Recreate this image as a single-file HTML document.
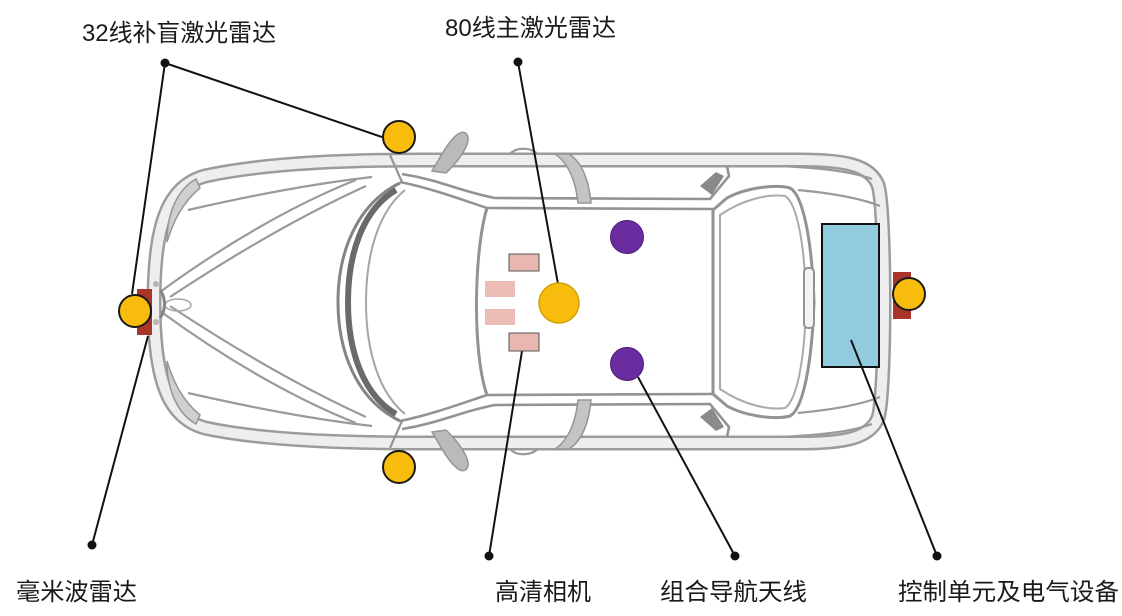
<!DOCTYPE html>
<html>
<head>
<meta charset="utf-8">
<style>
  html,body{margin:0;padding:0;background:#ffffff;}
  body{width:1122px;height:616px;overflow:hidden;}
  svg{display:block;}
  .t{font-family:"Liberation Sans","Noto Sans CJK SC",sans-serif;font-size:24px;fill:#1a1a1a;}
</style>
</head>
<body>
<svg width="1122" height="616" viewBox="0 0 1122 616" xmlns="http://www.w3.org/2000/svg">
  <rect x="0" y="0" width="1122" height="616" fill="#ffffff"/>

  <!-- ===== CAR BODY ===== -->
  <path d="M420 160 L800 160 C845 160 870 165 878 185 C886 210 886 394 878 418 C870 438 845 443 800 443 L420 443 C340 443 260 440 205 428 C168 418 154 380 154 302 C154 224 168 186 205 176 C260 164 340 160 420 160 Z" fill="none" stroke="#9c9c9c" stroke-width="15"/>
  <path d="M420 160 L800 160 C845 160 870 165 878 185 C886 210 886 394 878 418 C870 438 845 443 800 443 L420 443 C340 443 260 440 205 428 C168 418 154 380 154 302 C154 224 168 186 205 176 C260 164 340 160 420 160 Z" fill="none" stroke="#eeeeee" stroke-width="10"/>

  <!-- top half details -->
  <g fill="none" stroke="#9a9a9a" stroke-width="2.2">
    <path d="M160 292 C220 248 290 206 356 180"/>
    <path d="M170 297 C232 256 300 216 366 186"/>
    <path d="M188 210 C250 196 310 184 372 177"/>
    <path d="M196 179 C178 189 167 212 167 242 C173 222 182 203 200 188 Z" fill="#cfcfcf" stroke="#969696" stroke-width="1.5"/>
    <path d="M390 155 L402 182" stroke="#959595"/>
    <path d="M400 182 C430 188 460 199 487 208" stroke="#939393" stroke-width="2.6"/>
    <path d="M402 174 C440 180 462 192 495 198 L710 199 L729 176 L727 166" stroke="#939393" stroke-width="2.6"/>
    <path d="M487 208 L713 209" stroke="#939393" stroke-width="2.6"/>
    <path d="M555 154 C569 163 576 183 578 203 L591 203 C589 182 583 163 569 154 Z" fill="#c4c4c4" stroke="#959595" stroke-width="1.5"/>
    <path d="M700 186 L716 172 L724 176 L712 195 Z" fill="#8a8a8a" stroke="none"/>
    <path d="M432 171 C440 158 448 141 458 134 C466 129 471 136 466 147 C460 159 452 167 446 173 Z" fill="#bababa" stroke="#959595" stroke-width="1.5"/>
    <path d="M780 166 C820 168 850 171 872 179"/>
    <path d="M798 190 C830 193 860 198 880 206"/>
    <path d="M510 154 C516 147 530 147 538 154"/>
  </g>
  <!-- bottom half details (mirrored) -->
  <g fill="none" stroke="#9a9a9a" stroke-width="2.2" transform="matrix(1 0 0 -1 0 603)">
    <path d="M160 292 C220 248 290 206 356 180"/>
    <path d="M170 297 C232 256 300 216 366 186"/>
    <path d="M188 210 C250 196 310 184 372 177"/>
    <path d="M196 179 C178 189 167 212 167 242 C173 222 182 203 200 188 Z" fill="#cfcfcf" stroke="#969696" stroke-width="1.5"/>
    <path d="M390 155 L402 182" stroke="#959595"/>
    <path d="M400 182 C430 188 460 199 487 208" stroke="#939393" stroke-width="2.6"/>
    <path d="M402 174 C440 180 462 192 495 198 L710 199 L729 176 L727 166" stroke="#939393" stroke-width="2.6"/>
    <path d="M487 208 L713 209" stroke="#939393" stroke-width="2.6"/>
    <path d="M555 154 C569 163 576 183 578 203 L591 203 C589 182 583 163 569 154 Z" fill="#c4c4c4" stroke="#959595" stroke-width="1.5"/>
    <path d="M700 186 L716 172 L724 176 L712 195 Z" fill="#8a8a8a" stroke="none"/>
    <path d="M432 171 C440 158 448 141 458 134 C466 129 471 136 466 147 C460 159 452 167 446 173 Z" fill="#bababa" stroke="#959595" stroke-width="1.5"/>
    <path d="M780 166 C820 168 850 171 872 179"/>
    <path d="M798 190 C830 193 860 198 880 206"/>
    <path d="M510 154 C516 147 530 147 538 154"/>
  </g>

  <!-- windshield -->
  <path d="M400 183 C355 205 338 255 338 302 C338 349 355 399 400 421" fill="none" stroke="#858585" stroke-width="3"/>
  <path d="M396 190 C362 210 348 255 348 302 C348 349 362 394 396 414" fill="none" stroke="#6a6a6a" stroke-width="6"/>
  <path d="M405 190 C378 212 366 255 366 302 C366 349 378 392 405 414" fill="none" stroke="#a5a5a5" stroke-width="2"/>
  <path d="M487 208 C474 250 472 353 487 395" fill="none" stroke="#939393" stroke-width="3"/>

  <!-- roof right edge and rear window -->
  <path d="M713 209 L713 394" fill="none" stroke="#939393" stroke-width="3"/>
  <path d="M713 210 L727 198 C745 188 775 184 790 188 C803 195 812 240 814 302 C812 364 803 409 790 416 C775 420 745 416 727 406 L713 394" fill="none" stroke="#939393" stroke-width="3"/>
  <path d="M720 215 C745 198 770 194 785 196 C797 203 805 245 806 302 C805 359 797 400 785 408 C770 410 745 406 720 389 Z" fill="none" stroke="#aaaaaa" stroke-width="2"/>
  <rect x="804" y="268" width="10" height="60" rx="4" fill="#f4f4f4" stroke="#939393" stroke-width="2"/>

  <!-- front grille -->
  <ellipse cx="178" cy="305" rx="13" ry="6" fill="none" stroke="#a5a5a5" stroke-width="1.5"/>
  <ellipse cx="156" cy="284" rx="3" ry="3" fill="#b5b5b5"/>
  <ellipse cx="156" cy="322" rx="3" ry="3" fill="#b5b5b5"/>
  <path d="M160 290 C166 298 166 310 160 318" fill="none" stroke="#858585" stroke-width="3"/>

  <!-- ===== COMPONENTS ===== -->
  <rect x="137" y="289" width="15" height="46" fill="#a8342a"/>
  <rect x="893" y="272" width="18" height="47" fill="#a8342a"/>

  <g stroke="#111" stroke-width="2" fill="none">
    <line x1="165" y1="63" x2="382" y2="137"/>
    <line x1="165" y1="63" x2="132" y2="294"/>
    <line x1="518" y1="62" x2="558" y2="284"/>
    <line x1="92" y1="545" x2="148" y2="336"/>
    <line x1="489" y1="556" x2="522" y2="351"/>
    <line x1="735" y1="556" x2="638" y2="377"/>
  </g>

  <rect x="509" y="254" width="30" height="17" fill="#e8b7b1" stroke="#555" stroke-width="1"/>
  <rect x="485" y="281" width="30" height="16" fill="#ebbbb5"/>
  <rect x="485" y="309" width="30" height="16" fill="#ebbbb5"/>
  <rect x="509" y="333" width="30" height="18" fill="#e8b7b1" stroke="#555" stroke-width="1"/>

  <circle cx="559" cy="303" r="20" fill="#f8bc0c" stroke="#d1a106" stroke-width="1.5"/>
  <circle cx="399" cy="137" r="16" fill="#f8bc0c" stroke="#1a1a1a" stroke-width="2"/>
  <circle cx="399" cy="467" r="16" fill="#f8bc0c" stroke="#1a1a1a" stroke-width="2"/>
  <circle cx="135" cy="311" r="16" fill="#f8bc0c" stroke="#1a1a1a" stroke-width="2"/>
  <circle cx="909" cy="294" r="16" fill="#f8bc0c" stroke="#1a1a1a" stroke-width="2"/>

  <circle cx="627" cy="237" r="16.5" fill="#6a2c9f" stroke="#4b1c74" stroke-width="1"/>
  <circle cx="627" cy="364" r="16.5" fill="#6a2c9f" stroke="#4b1c74" stroke-width="1"/>

  <rect x="822" y="224" width="57" height="143" fill="#90cbe0" stroke="#111" stroke-width="2"/>
  <line x1="851" y1="340" x2="937" y2="556" stroke="#111" stroke-width="2"/>

  <g fill="#111">
    <circle cx="165" cy="63" r="4.5"/>
    <circle cx="518" cy="62" r="4.5"/>
    <circle cx="92" cy="545" r="4.5"/>
    <circle cx="489" cy="556" r="4.5"/>
    <circle cx="735" cy="556" r="4.5"/>
    <circle cx="937" cy="556" r="4.5"/>
  </g>

  <text class="t" x="82" y="41" textLength="194" lengthAdjust="spacingAndGlyphs">32线补盲激光雷达</text>
  <text class="t" x="445" y="36" textLength="171" lengthAdjust="spacingAndGlyphs">80线主激光雷达</text>
  <text class="t" x="16" y="600" textLength="121" lengthAdjust="spacingAndGlyphs">毫米波雷达</text>
  <text class="t" x="495" y="600" textLength="96" lengthAdjust="spacingAndGlyphs">高清相机</text>
  <text class="t" x="660" y="600" textLength="147" lengthAdjust="spacingAndGlyphs">组合导航天线</text>
  <text class="t" x="898" y="600" textLength="221" lengthAdjust="spacingAndGlyphs">控制单元及电气设备</text>
</svg>
</body>
</html>
